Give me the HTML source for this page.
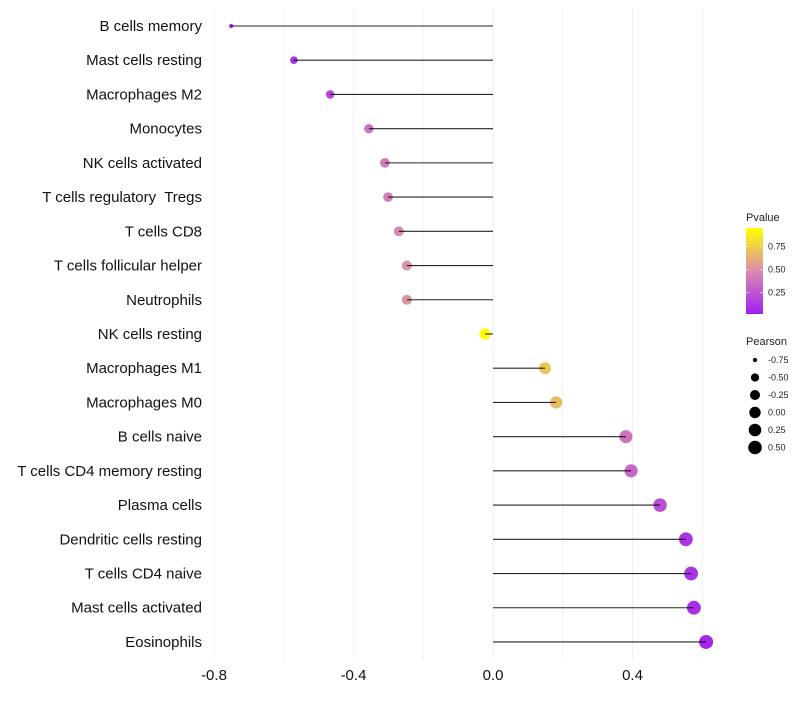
<!DOCTYPE html>
<html><head><meta charset="utf-8"><style>
body{margin:0;background:#fff;}
svg text{font-family:"Liberation Sans",sans-serif;white-space:pre;}
</style></head><body>
<svg id="c" width="800" height="700"></svg>
<script>
const categories=["B cells memory","Mast cells resting","Macrophages M2","Monocytes","NK cells activated","T cells regulatory  Tregs","T cells CD8","T cells follicular helper","Neutrophils","NK cells resting","Macrophages M1","Macrophages M0","B cells naive","T cells CD4 memory resting","Plasma cells","Dendritic cells resting","T cells CD4 naive","Mast cells activated","Eosinophils"];
const pearson=[-0.751,-0.571,-0.467,-0.356,-0.31,-0.301,-0.27,-0.247,-0.247,-0.023,0.149,0.181,0.381,0.396,0.479,0.553,0.568,0.576,0.611];
const pvalue=[0.03,0.1,0.2,0.38,0.42,0.43,0.47,0.52,0.52,0.95,0.72,0.68,0.38,0.33,0.22,0.1,0.1,0.08,0.05];
const xTicks=[-0.8,-0.4,0.0,0.4];
const gridVals=[-0.8,-0.6,-0.4,-0.2,0,0.2,0.4,0.6];
const pTicks=[0.25,0.5,0.75];
const sizeTicks=[-0.75,-0.5,-0.25,0,0.25,0.5];
const NS="http://www.w3.org/2000/svg";
const svg=document.getElementById('c');
function mk(t,a,p){const e=document.createElementNS(NS,t);for(const k in a)e.setAttribute(k,a[k]);(p||svg).appendChild(e);return e;}
const x=v=>493+v*348.75;
const y=i=>26+i*34.22;
const rad=v=>2+5*Math.sqrt(Math.max(0,(v+0.751)/1.36));
function lerp(a,b,t){return a.map((c,i)=>Math.round(c+(b[i]-c)*t));}
function col(p){let t=(p-0.02)/(0.95-0.02);t=Math.max(0,Math.min(1,t));
 const A=[160,32,240],M=[217,140,175],B=[255,255,0];
 const c=t<0.5?lerp(A,M,t*2):lerp(M,B,(t-0.5)*2);return `rgb(${c[0]},${c[1]},${c[2]})`;}
gridVals.forEach(v=>{const l=mk('line',{x1:x(v),x2:x(v),y1:8,y2:660,stroke:'#f0f0f0','stroke-width':1});
});
xTicks.forEach(v=>{const t=mk('text',{x:x(v),y:680,'text-anchor':'middle','font-size':15,fill:'#111'});t.textContent=v.toFixed(1);
});
categories.forEach((c,i)=>{const t=mk('text',{x:202,y:y(i)+5,'text-anchor':'end','font-size':15,fill:'#111'});t.textContent=c;
});
pearson.forEach((v,i)=>{const c=mk('circle',{cx:x(v),cy:y(i),r:rad(v),fill:col(pvalue[i])});
});
pearson.forEach((v,i)=>{const l=mk('line',{x1:x(0),x2:x(v),y1:y(i),y2:y(i),stroke:'#000','stroke-width':1.1,'stroke-opacity':0.85});
});
let t=mk('text',{x:746,y:221,'font-size':11,fill:'#222'});t.textContent='Pvalue';

const defs=mk('defs',{});const g=mk('linearGradient',{id:'pg',x1:0,y1:1,x2:0,y2:0},defs);
[0,0.25,0.5,0.75,1].forEach(o=>mk('stop',{offset:o,'stop-color':col(0.02+o*0.93)},g));
const bar=mk('rect',{x:746,y:228,width:17,height:86,fill:'url(#pg)'});

const py=p=>314-(p-0.02)/0.93*86;
pTicks.forEach(p=>{mk('line',{x1:746,x2:749,y1:py(p),y2:py(p),stroke:'#fff','stroke-opacity':0.6});mk('line',{x1:760,x2:763,y1:py(p),y2:py(p),stroke:'#fff','stroke-opacity':0.6});
const tt=mk('text',{x:768,y:py(p)+3,'font-size':9,fill:'#222'});tt.textContent=p.toFixed(2);
});
t=mk('text',{x:746,y:345,'font-size':11,fill:'#222'});t.textContent='Pearson';

sizeTicks.forEach((v,i)=>{const cy=360+i*17.5;const c=mk('circle',{cx:755,cy:cy,r:rad(v),fill:'#000'});

const tt=mk('text',{x:768,y:cy+3,'font-size':9,fill:'#222'});tt.textContent=v.toFixed(2);
});
</script>
</body></html>
